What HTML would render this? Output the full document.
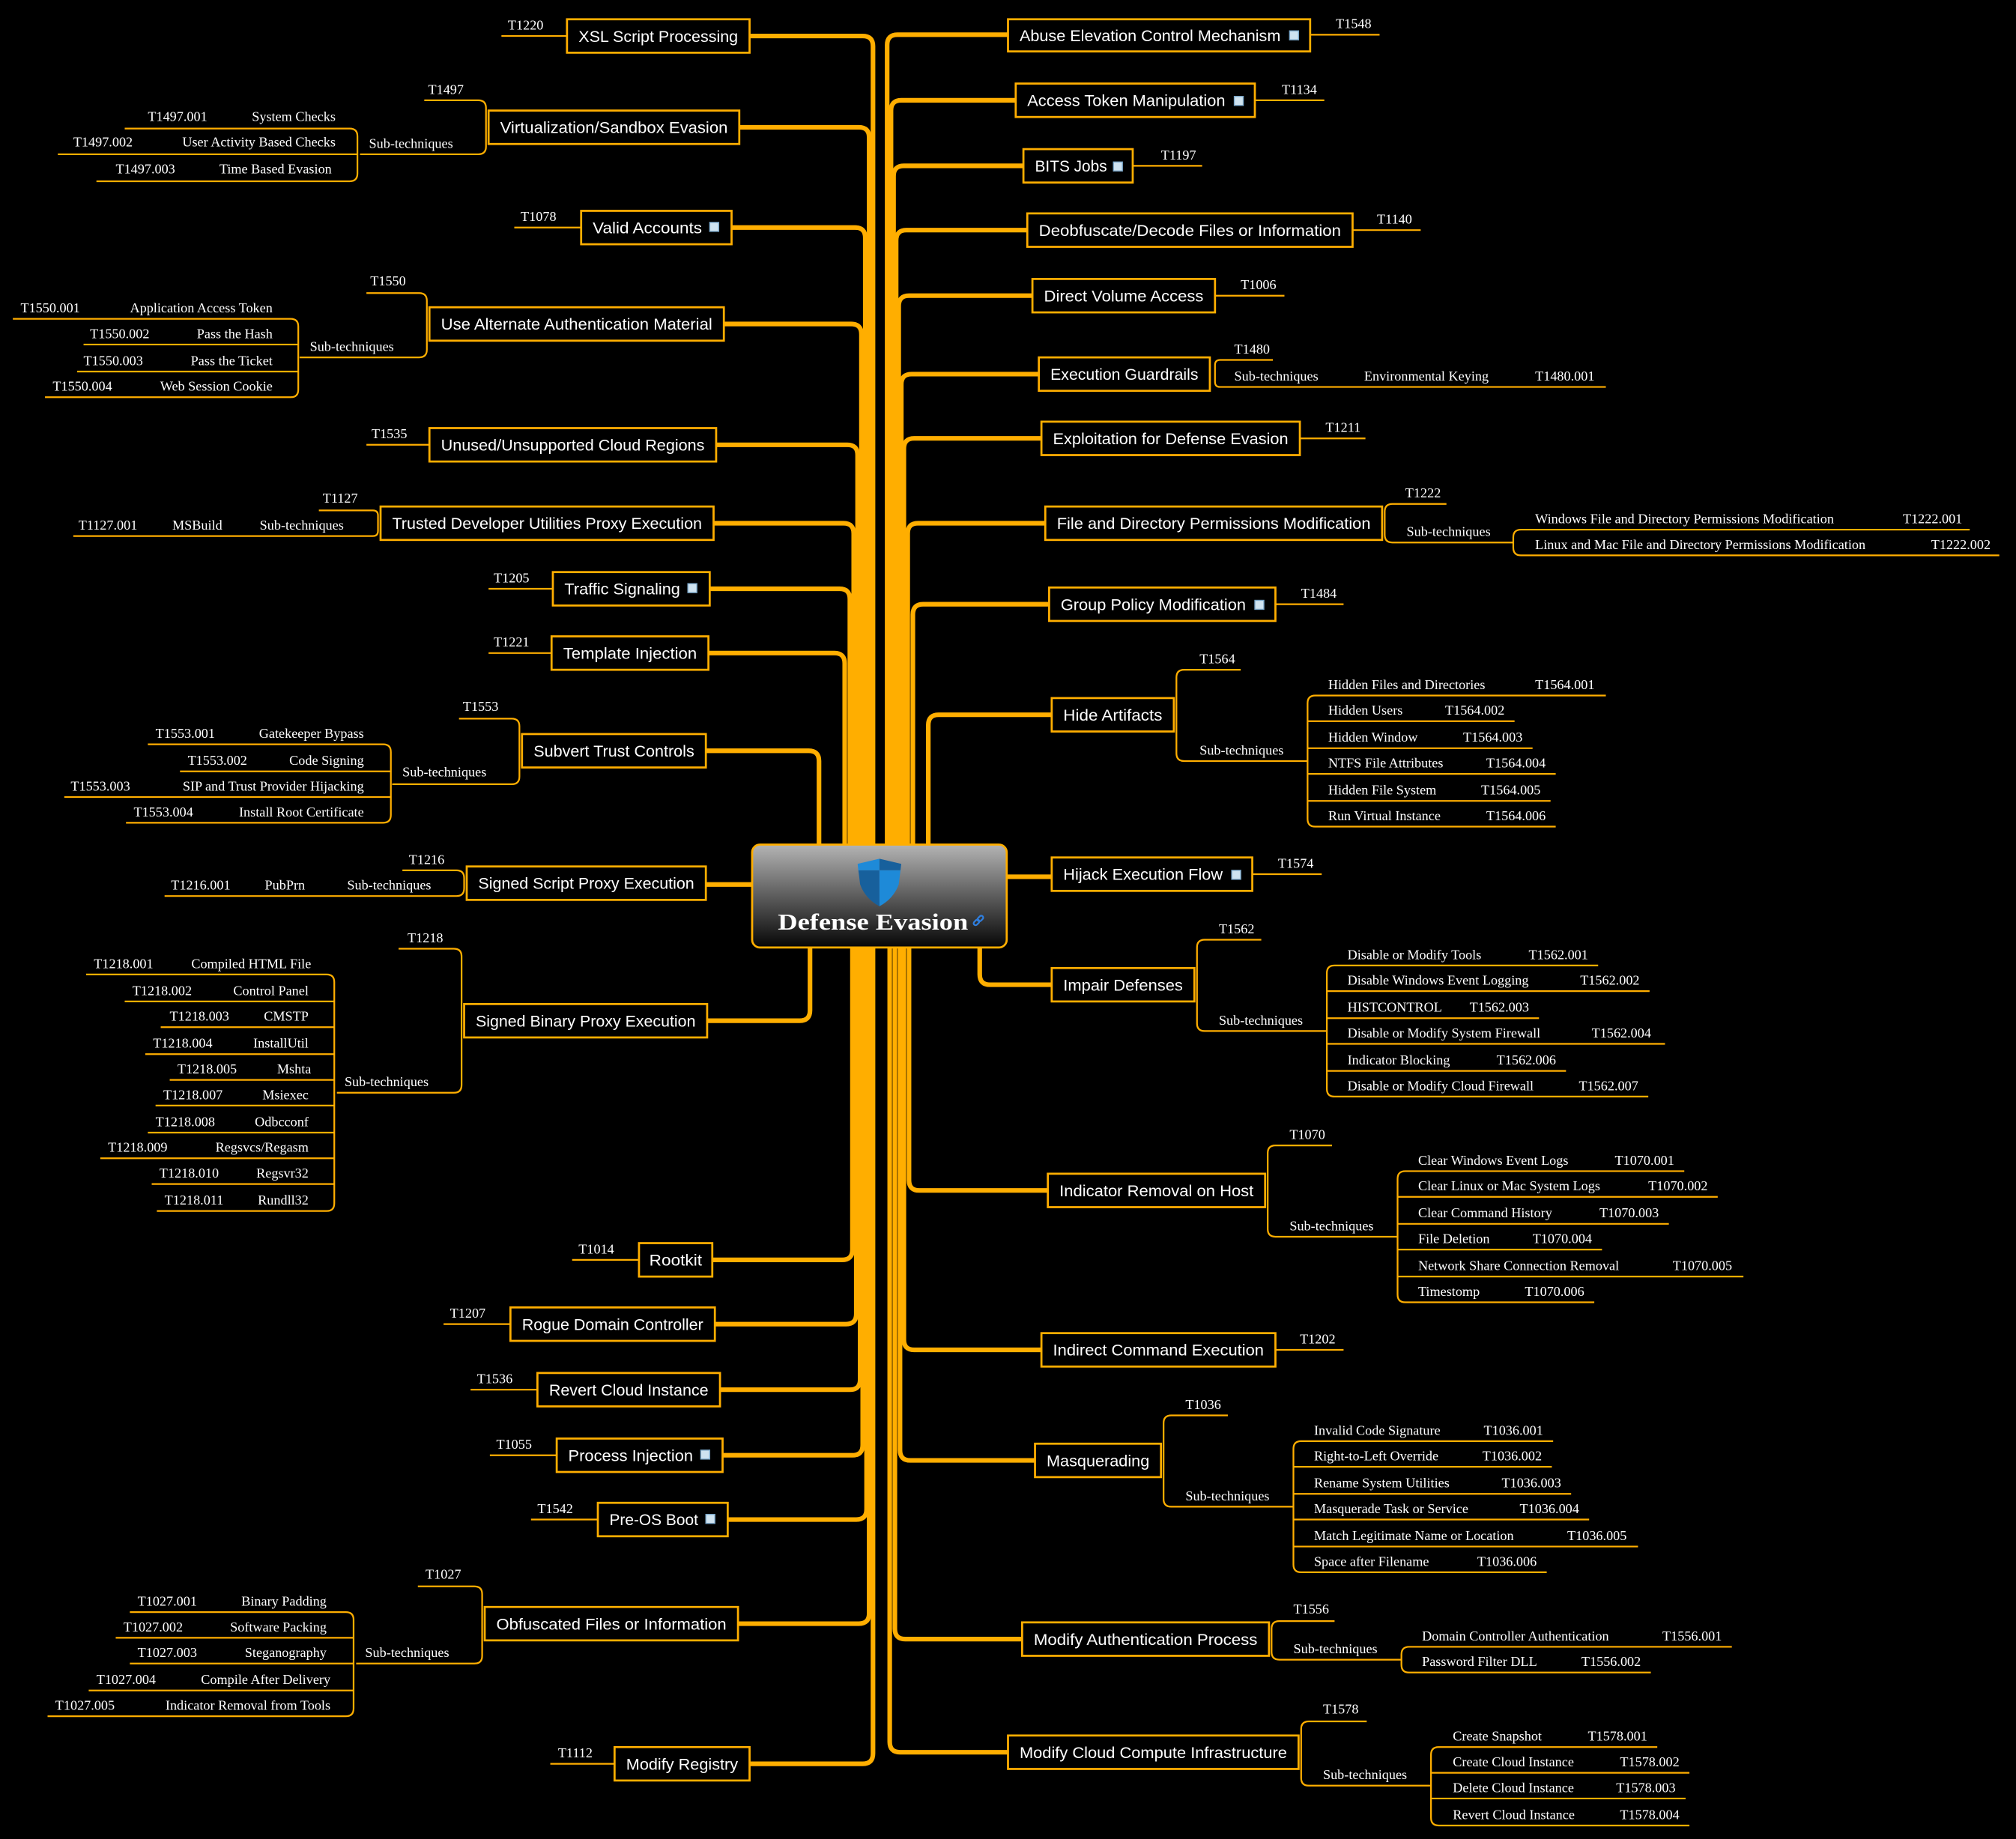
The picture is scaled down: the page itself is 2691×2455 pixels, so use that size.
<!DOCTYPE html>
<html><head><meta charset="utf-8"><style>
html,body{margin:0;padding:0;background:#000;}
svg{display:block}
.c{fill:none;stroke:#ffae00;stroke-width:3.6}
.l{fill:none;stroke:#ffae00;stroke-width:1.3}
.b{fill:#000;stroke:#ffae00;stroke-width:1.6}
.n{fill:#fff;font-family:"Liberation Sans",sans-serif;font-size:12.5px}
.m{text-anchor:middle}
.t{fill:#fff;font-family:"Liberation Serif",serif;font-size:10.6px}
.e{text-anchor:end}
.i{fill:#cfe3f0;stroke:#7aa6c8;stroke-width:.8}
</style></head><body>
<svg width="2691" height="2455" viewBox="0 0 1568 1430.5" preserveAspectRatio="none" xmlns="http://www.w3.org/2000/svg">
<defs>
<linearGradient id="g" x1="0" y1="0" x2="0" y2="1"><stop offset="0" stop-color="#b4b4b4"/><stop offset="1" stop-color="#060606"/></linearGradient>
<clipPath id="sh"><path d="M684,668 L701,672 L699,688 Q695,699 684,705 Q673,699 669,688 L667,672 Z"/></clipPath>
</defs>
<rect width="1568" height="1430.5" fill="#000"/>
<g class="c">
<path d="M583 28 H671 Q679 28 679 36 V660"/>
<path d="M575 99 H668 Q676 99 676 107 V660"/>
<path d="M569 177 H665 Q673 177 673 185 V660"/>
<path d="M563 252 H662 Q670 252 670 260 V660"/>
<path d="M557 346 H659 Q667 346 667 354 V660"/>
<path d="M555 407 H656 Q664 407 664 415 V660"/>
<path d="M552 458 H653 Q661 458 661 466 V660"/>
<path d="M551 508 H649 Q657 508 657 516 V660"/>
<path d="M549 584 H629 Q637 584 637 592 V660"/>
<path d="M549 688 H586"/>
<path d="M550 794 H622 Q630 794 630 786 V735"/>
<path d="M554 980 H655 Q663 980 663 972 V735"/>
<path d="M556 1030 H658 Q666 1030 666 1022 V735"/>
<path d="M560 1081 H661 Q669 1081 669 1073 V735"/>
<path d="M562 1132 H663 Q671 1132 671 1124 V735"/>
<path d="M566 1182 H666 Q674 1182 674 1174 V735"/>
<path d="M574 1263 H668 Q676 1263 676 1255 V735"/>
<path d="M583 1372 H671 Q679 1372 679 1364 V735"/>
<path d="M784 27 H698 Q690 27 690 35 V660"/>
<path d="M790 78 H701 Q693 78 693 86 V660"/>
<path d="M796 129 H703 Q695 129 695 137 V660"/>
<path d="M799 179 H705 Q697 179 697 187 V660"/>
<path d="M803 230 H707 Q699 230 699 238 V660"/>
<path d="M808 291 H709 Q701 291 701 299 V660"/>
<path d="M810 341 H711 Q703 341 703 349 V660"/>
<path d="M813 407 H714 Q706 407 706 415 V660"/>
<path d="M816 470 H718 Q710 470 710 478 V660"/>
<path d="M818 556 H730 Q722 556 722 564 V660"/>
<path d="M783 682 H818"/>
<path d="M818 766 H770 Q762 766 762 758 V735"/>
<path d="M815 926 H715 Q707 926 707 918 V735"/>
<path d="M810 1050 H711 Q703 1050 703 1042 V735"/>
<path d="M805 1136 H708 Q700 1136 700 1128 V735"/>
<path d="M795 1275 H704 Q696 1275 696 1267 V735"/>
<path d="M784 1363 H700 Q692 1363 692 1355 V735"/>
</g>
<g class="l">
<path d="M390 28 H441"/>
<path d="M330 78 H372 Q378 78 378 84 V114 Q378 120 372 120 H280"/>
<path d="M97 100 H272 Q278 100 278 106 V135 Q278 141 272 141 H75"/><path d="M45 120 H278"/>
<path d="M400 177 H452"/>
<path d="M285 228 H326 Q332 228 332 234 V272 Q332 278 326 278 H233"/>
<path d="M10 248 H226 Q232 248 232 254 V303 Q232 309 226 309 H35"/><path d="M65 268 H232"/><path d="M60 289 H232"/>
<path d="M285 346 H334"/>
<path d="M248 397 H290 Q294 397 294 401 V413 Q294 417 290 417 H57"/>
<path d="M380 458 H430"/>
<path d="M380 508 H429"/>
<path d="M357 559 H398 Q404 559 404 565 V604 Q404 610 398 610 H305"/>
<path d="M115 579 H298 Q304 579 304 585 V634 Q304 640 298 640 H98"/><path d="M140 600 H304"/><path d="M50 620 H304"/>
<path d="M313 677 H355 Q361 677 361 683 V691 Q361 697 355 697 H128"/>
<path d="M310 738 H353 Q359 738 359 744 V844 Q359 850 353 850 H262"/>
<path d="M67 758 H254 Q260 758 260 764 V936 Q260 942 254 942 H122"/>
<path d="M97 779 H260"/><path d="M125 799 H260"/><path d="M113 820 H260"/><path d="M132 840 H260"/><path d="M121 860 H260"/><path d="M115 881 H260"/><path d="M78 901 H260"/><path d="M118 921 H260"/>
<path d="M445 980 H497"/>
<path d="M345 1030 H397"/>
<path d="M366 1081 H418"/>
<path d="M381 1132 H433"/>
<path d="M413 1182 H465"/>
<path d="M325 1234 H369 Q375 1234 375 1240 V1288 Q375 1294 369 1294 H277"/>
<path d="M101 1254 H269 Q275 1254 275 1260 V1329 Q275 1335 269 1335 H37"/><path d="M90 1274 H275"/><path d="M101 1294 H275"/><path d="M69 1315 H275"/>
<path d="M428 1372 H478"/>
<path d="M1019 27 H1073"/>
<path d="M976 78 H1030"/>
<path d="M881 129 H935"/>
<path d="M1052 179 H1105"/>
<path d="M945 230 H999"/>
<path d="M990 280 H949 Q945 280 945 284 V297 Q945 301 949 301 H1249"/>
<path d="M1011 341 H1062"/>
<path d="M1125 392 H1083 Q1077 392 1077 398 V416 Q1077 422 1083 422 H1177"/>
<path d="M1532 412 H1183 Q1177 412 1177 418 V426 Q1177 432 1183 432 H1555"/>
<path d="M992 470 H1045"/>
<path d="M965 521 H921 Q915 521 915 527 V586 Q915 592 921 592 H1017"/>
<path d="M1249 541 H1023 Q1017 541 1017 547 V637 Q1017 643 1023 643 H1210"/><path d="M1017 561 H1178"/><path d="M1017 582 H1192"/><path d="M1017 602 H1210"/><path d="M1017 623 H1206"/>
<path d="M974 680 H1028"/>
<path d="M981 731 H937 Q931 731 931 737 V796 Q931 802 937 802 H1032"/>
<path d="M1243 751 H1038 Q1032 751 1032 757 V847 Q1032 853 1038 853 H1282"/><path d="M1032 771 H1283"/><path d="M1032 792 H1197"/><path d="M1032 812 H1295"/><path d="M1032 833 H1218"/>
<path d="M1036 891 H992 Q986 891 986 897 V956 Q986 962 992 962 H1087"/>
<path d="M1310 911 H1093 Q1087 911 1087 917 V1007 Q1087 1013 1093 1013 H1240"/><path d="M1087 931 H1336"/><path d="M1087 952 H1298"/><path d="M1087 972 H1246"/><path d="M1087 993 H1356"/>
<path d="M992 1050 H1045"/>
<path d="M955 1101 H911 Q905 1101 905 1107 V1166 Q905 1172 911 1172 H1006"/>
<path d="M1208 1121 H1012 Q1006 1121 1006 1127 V1217 Q1006 1223 1012 1223 H1203"/><path d="M1006 1141 H1207"/><path d="M1006 1162 H1222"/><path d="M1006 1182 H1236"/><path d="M1006 1203 H1274"/>
<path d="M1038 1261 H995 Q989 1261 989 1267 V1285 Q989 1291 995 1291 H1090"/>
<path d="M1347 1281 H1096 Q1090 1281 1090 1287 V1295 Q1090 1301 1096 1301 H1284"/>
<path d="M1063 1339 H1018 Q1012 1339 1012 1345 V1383 Q1012 1389 1018 1389 H1113"/>
<path d="M1289 1359 H1119 Q1113 1359 1113 1365 V1414 Q1113 1420 1119 1420 H1314"/><path d="M1113 1379 H1314"/><path d="M1113 1399 H1311"/>
</g>
<g class="b">
<rect x="441" y="15" width="142" height="26"/><rect x="380" y="86" width="195" height="26"/><rect x="452" y="164" width="117" height="26"/><rect x="334" y="239" width="229" height="26"/><rect x="334" y="333" width="223" height="26"/><rect x="296" y="394" width="259" height="26"/><rect x="430" y="445" width="122" height="26"/><rect x="429" y="495" width="122" height="26"/><rect x="406" y="571" width="143" height="26"/><rect x="363" y="674" width="186" height="26"/><rect x="361" y="781" width="189" height="26"/><rect x="497" y="967" width="57" height="26"/><rect x="397" y="1017" width="159" height="26"/><rect x="418" y="1068" width="142" height="26"/><rect x="433" y="1119" width="129" height="26"/><rect x="465" y="1169" width="101" height="26"/><rect x="377" y="1250" width="197" height="26"/><rect x="478" y="1359" width="105" height="26"/>
<rect x="784" y="15" width="235" height="25"/><rect x="790" y="65" width="186" height="26"/><rect x="796" y="116" width="85" height="26"/><rect x="799" y="166" width="253" height="26"/><rect x="803" y="217" width="142" height="26"/><rect x="808" y="278" width="133" height="26"/><rect x="810" y="328" width="201" height="26"/><rect x="813" y="394" width="262" height="26"/><rect x="816" y="457" width="176" height="26"/><rect x="818" y="543" width="95" height="26"/><rect x="818" y="667" width="156" height="26"/><rect x="818" y="753" width="111" height="26"/><rect x="815" y="913" width="169" height="26"/><rect x="810" y="1037" width="182" height="26"/><rect x="805" y="1123" width="98" height="26"/><rect x="795" y="1262" width="192" height="26"/><rect x="784" y="1350" width="226" height="26"/>
</g>
<g class="i">
<rect x="552" y="173" width="7" height="7"/><rect x="535" y="454" width="7" height="7"/><rect x="545" y="1128" width="7" height="7"/><rect x="549" y="1178" width="7" height="7"/>
<rect x="1003" y="24" width="7" height="7"/><rect x="960" y="75" width="7" height="7"/><rect x="866" y="126" width="7" height="7"/><rect x="976" y="467" width="7" height="7"/><rect x="958" y="677" width="7" height="7"/>
</g>
<g class="n">
<text class="m" x="512" y="32.5" textLength="124" lengthAdjust="spacingAndGlyphs">XSL Script Processing</text>
<text class="m" x="477.5" y="103.5" textLength="177" lengthAdjust="spacingAndGlyphs">Virtualization/Sandbox Evasion</text>
<text x="461" y="181.5" textLength="85" lengthAdjust="spacingAndGlyphs">Valid Accounts</text>
<text class="m" x="448.5" y="256.5" textLength="211" lengthAdjust="spacingAndGlyphs">Use Alternate Authentication Material</text>
<text class="m" x="445.5" y="350.5" textLength="205" lengthAdjust="spacingAndGlyphs">Unused/Unsupported Cloud Regions</text>
<text class="m" x="425.5" y="411.5" textLength="241" lengthAdjust="spacingAndGlyphs">Trusted Developer Utilities Proxy Execution</text>
<text x="439" y="462.5" textLength="90" lengthAdjust="spacingAndGlyphs">Traffic Signaling</text>
<text class="m" x="490" y="512.5" textLength="104" lengthAdjust="spacingAndGlyphs">Template Injection</text>
<text class="m" x="477.5" y="588.5" textLength="125" lengthAdjust="spacingAndGlyphs">Subvert Trust Controls</text>
<text class="m" x="456" y="691.5" textLength="168" lengthAdjust="spacingAndGlyphs">Signed Script Proxy Execution</text>
<text class="m" x="455.5" y="798.5" textLength="171" lengthAdjust="spacingAndGlyphs">Signed Binary Proxy Execution</text>
<text class="m" x="525.5" y="984.5" textLength="41" lengthAdjust="spacingAndGlyphs">Rootkit</text>
<text class="m" x="476.5" y="1034.5" textLength="141" lengthAdjust="spacingAndGlyphs">Rogue Domain Controller</text>
<text class="m" x="489" y="1085.5" textLength="124" lengthAdjust="spacingAndGlyphs">Revert Cloud Instance</text>
<text x="442" y="1136.5" textLength="97" lengthAdjust="spacingAndGlyphs">Process Injection</text>
<text x="474" y="1186.5" textLength="69" lengthAdjust="spacingAndGlyphs">Pre-OS Boot</text>
<text class="m" x="475.5" y="1267.5" textLength="179" lengthAdjust="spacingAndGlyphs">Obfuscated Files or Information</text>
<text class="m" x="530.5" y="1376.5" textLength="87" lengthAdjust="spacingAndGlyphs">Modify Registry</text>
<text x="793" y="32" textLength="203" lengthAdjust="spacingAndGlyphs">Abuse Elevation Control Mechanism</text>
<text x="799" y="82.5" textLength="154" lengthAdjust="spacingAndGlyphs">Access Token Manipulation</text>
<text x="805" y="133.5" textLength="56" lengthAdjust="spacingAndGlyphs">BITS Jobs</text>
<text class="m" x="925.5" y="183.5" textLength="235" lengthAdjust="spacingAndGlyphs">Deobfuscate/Decode Files or Information</text>
<text class="m" x="874" y="234.5" textLength="124" lengthAdjust="spacingAndGlyphs">Direct Volume Access</text>
<text class="m" x="874.5" y="295.5" textLength="115" lengthAdjust="spacingAndGlyphs">Execution Guardrails</text>
<text class="m" x="910.5" y="345.5" textLength="183" lengthAdjust="spacingAndGlyphs">Exploitation for Defense Evasion</text>
<text class="m" x="944" y="411.5" textLength="244" lengthAdjust="spacingAndGlyphs">File and Directory Permissions Modification</text>
<text x="825" y="474.5" textLength="144" lengthAdjust="spacingAndGlyphs">Group Policy Modification</text>
<text class="m" x="865.5" y="560.5" textLength="77" lengthAdjust="spacingAndGlyphs">Hide Artifacts</text>
<text x="827" y="684.5" textLength="124" lengthAdjust="spacingAndGlyphs">Hijack Execution Flow</text>
<text class="m" x="873.5" y="770.5" textLength="93" lengthAdjust="spacingAndGlyphs">Impair Defenses</text>
<text class="m" x="899.5" y="930.5" textLength="151" lengthAdjust="spacingAndGlyphs">Indicator Removal on Host</text>
<text class="m" x="901" y="1054.5" textLength="164" lengthAdjust="spacingAndGlyphs">Indirect Command Execution</text>
<text class="m" x="854" y="1140.5" textLength="80" lengthAdjust="spacingAndGlyphs">Masquerading</text>
<text class="m" x="891" y="1279.5" textLength="174" lengthAdjust="spacingAndGlyphs">Modify Authentication Process</text>
<text class="m" x="897" y="1367.5" textLength="208" lengthAdjust="spacingAndGlyphs">Modify Cloud Compute Infrastructure</text>
</g>
<g class="t">
<text x="395" y="23">T1220</text>
<text x="333" y="73">T1497</text><text x="287" y="115">Sub-techniques</text>
<text x="115" y="94">T1497.001</text><text class="e" x="261" y="94">System Checks</text>
<text x="57" y="114">T1497.002</text><text class="e" x="261" y="114">User Activity Based Checks</text>
<text x="90" y="135">T1497.003</text><text class="e" x="258" y="135">Time Based Evasion</text>
<text x="405" y="172">T1078</text>
<text x="288" y="222">T1550</text><text x="241" y="273">Sub-techniques</text>
<text x="16" y="243">T1550.001</text><text class="e" x="212" y="243">Application Access Token</text>
<text x="70" y="263">T1550.002</text><text class="e" x="212" y="263">Pass the Hash</text>
<text x="65" y="284">T1550.003</text><text class="e" x="212" y="284">Pass the Ticket</text>
<text x="41" y="304">T1550.004</text><text class="e" x="212" y="304">Web Session Cookie</text>
<text x="289" y="341">T1535</text>
<text x="251" y="391">T1127</text><text x="202" y="412">Sub-techniques</text><text x="61" y="412">T1127.001</text><text x="134" y="412">MSBuild</text>
<text x="384" y="453">T1205</text>
<text x="384" y="503">T1221</text>
<text x="360" y="553">T1553</text><text x="313" y="604">Sub-techniques</text>
<text x="121" y="574">T1553.001</text><text class="e" x="283" y="574">Gatekeeper Bypass</text>
<text x="146" y="595">T1553.002</text><text class="e" x="283" y="595">Code Signing</text>
<text x="55" y="615">T1553.003</text><text class="e" x="283" y="615">SIP and Trust Provider Hijacking</text>
<text x="104" y="635">T1553.004</text><text class="e" x="283" y="635">Install Root Certificate</text>
<text x="318" y="672">T1216</text><text x="270" y="692">Sub-techniques</text><text x="133" y="692">T1216.001</text><text x="206" y="692">PubPrn</text>
<text x="317" y="733">T1218</text><text x="268" y="845">Sub-techniques</text>
<text x="73" y="753">T1218.001</text><text class="e" x="242" y="753">Compiled HTML File</text>
<text x="103" y="774">T1218.002</text><text class="e" x="240" y="774">Control Panel</text>
<text x="132" y="794">T1218.003</text><text class="e" x="240" y="794">CMSTP</text>
<text x="119" y="815">T1218.004</text><text class="e" x="240" y="815">InstallUtil</text>
<text x="138" y="835">T1218.005</text><text class="e" x="242" y="835">Mshta</text>
<text x="127" y="855">T1218.007</text><text class="e" x="240" y="855">Msiexec</text>
<text x="121" y="876">T1218.008</text><text class="e" x="240" y="876">Odbcconf</text>
<text x="84" y="896">T1218.009</text><text class="e" x="240" y="896">Regsvcs/Regasm</text>
<text x="124" y="916">T1218.010</text><text class="e" x="240" y="916">Regsvr32</text>
<text x="128" y="937">T1218.011</text><text class="e" x="240" y="937">Rundll32</text>
<text x="450" y="975">T1014</text>
<text x="350" y="1025">T1207</text>
<text x="371" y="1076">T1536</text>
<text x="386" y="1127">T1055</text>
<text x="418" y="1177">T1542</text>
<text x="331" y="1228">T1027</text><text x="284" y="1289">Sub-techniques</text>
<text x="107" y="1249">T1027.001</text><text class="e" x="254" y="1249">Binary Padding</text>
<text x="96" y="1269">T1027.002</text><text class="e" x="254" y="1269">Software Packing</text>
<text x="107" y="1289">T1027.003</text><text class="e" x="254" y="1289">Steganography</text>
<text x="75" y="1310">T1027.004</text><text class="e" x="257" y="1310">Compile After Delivery</text>
<text x="43" y="1330">T1027.005</text><text class="e" x="257" y="1330">Indicator Removal from Tools</text>
<text x="434" y="1367">T1112</text>
<text x="1039" y="22">T1548</text>
<text x="997" y="73">T1134</text>
<text x="903" y="124">T1197</text>
<text x="1071" y="174">T1140</text>
<text x="965" y="225">T1006</text>
<text x="960" y="275">T1480</text><text x="960" y="296">Sub-techniques</text><text x="1061" y="296">Environmental Keying</text><text x="1194" y="296">T1480.001</text>
<text x="1031" y="336">T1211</text>
<text x="1093" y="387">T1222</text><text x="1094" y="417">Sub-techniques</text>
<text x="1194" y="407">Windows File and Directory Permissions Modification</text><text x="1480" y="407">T1222.001</text>
<text x="1194" y="427">Linux and Mac File and Directory Permissions Modification</text><text x="1502" y="427">T1222.002</text>
<text x="1012" y="465">T1484</text>
<text x="933" y="516">T1564</text><text x="933" y="587">Sub-techniques</text>
<text x="1033" y="536">Hidden Files and Directories</text><text x="1194" y="536">T1564.001</text>
<text x="1033" y="556">Hidden Users</text><text x="1124" y="556">T1564.002</text>
<text x="1033" y="577">Hidden Window</text><text x="1138" y="577">T1564.003</text>
<text x="1033" y="597">NTFS File Attributes</text><text x="1156" y="597">T1564.004</text>
<text x="1033" y="618">Hidden File System</text><text x="1152" y="618">T1564.005</text>
<text x="1033" y="638">Run Virtual Instance</text><text x="1156" y="638">T1564.006</text>
<text x="994" y="675">T1574</text>
<text x="948" y="726">T1562</text><text x="948" y="797">Sub-techniques</text>
<text x="1048" y="746">Disable or Modify Tools</text><text x="1189" y="746">T1562.001</text>
<text x="1048" y="766">Disable Windows Event Logging</text><text x="1229" y="766">T1562.002</text>
<text x="1048" y="787">HISTCONTROL</text><text x="1143" y="787">T1562.003</text>
<text x="1048" y="807">Disable or Modify System Firewall</text><text x="1238" y="807">T1562.004</text>
<text x="1048" y="828">Indicator Blocking</text><text x="1164" y="828">T1562.006</text>
<text x="1048" y="848">Disable or Modify Cloud Firewall</text><text x="1228" y="848">T1562.007</text>
<text x="1003" y="886">T1070</text><text x="1003" y="957">Sub-techniques</text>
<text x="1103" y="906">Clear Windows Event Logs</text><text x="1256" y="906">T1070.001</text>
<text x="1103" y="926">Clear Linux or Mac System Logs</text><text x="1282" y="926">T1070.002</text>
<text x="1103" y="947">Clear Command History</text><text x="1244" y="947">T1070.003</text>
<text x="1103" y="967">File Deletion</text><text x="1192" y="967">T1070.004</text>
<text x="1103" y="988">Network Share Connection Removal</text><text x="1301" y="988">T1070.005</text>
<text x="1103" y="1008">Timestomp</text><text x="1186" y="1008">T1070.006</text>
<text x="1011" y="1045">T1202</text>
<text x="922" y="1096">T1036</text><text x="922" y="1167">Sub-techniques</text>
<text x="1022" y="1116">Invalid Code Signature</text><text x="1154" y="1116">T1036.001</text>
<text x="1022" y="1136">Right-to-Left Override</text><text x="1153" y="1136">T1036.002</text>
<text x="1022" y="1157">Rename System Utilities</text><text x="1168" y="1157">T1036.003</text>
<text x="1022" y="1177">Masquerade Task or Service</text><text x="1182" y="1177">T1036.004</text>
<text x="1022" y="1198">Match Legitimate Name or Location</text><text x="1219" y="1198">T1036.005</text>
<text x="1022" y="1218">Space after Filename</text><text x="1149" y="1218">T1036.006</text>
<text x="1006" y="1255">T1556</text><text x="1006" y="1286">Sub-techniques</text>
<text x="1106" y="1276">Domain Controller Authentication</text><text x="1293" y="1276">T1556.001</text>
<text x="1106" y="1296">Password Filter DLL</text><text x="1230" y="1296">T1556.002</text>
<text x="1029" y="1333">T1578</text><text x="1029" y="1384">Sub-techniques</text>
<text x="1130" y="1354">Create Snapshot</text><text x="1235" y="1354">T1578.001</text>
<text x="1130" y="1374">Create Cloud Instance</text><text x="1260" y="1374">T1578.002</text>
<text x="1130" y="1394">Delete Cloud Instance</text><text x="1257" y="1394">T1578.003</text>
<text x="1130" y="1415">Revert Cloud Instance</text><text x="1260" y="1415">T1578.004</text>
</g>
<rect x="585" y="657" width="198" height="80" rx="6" fill="url(#g)" stroke="#ffae00" stroke-width="1.6"/>
<g clip-path="url(#sh)">
<rect x="660" y="660" width="24" height="17" fill="#1e8ad8"/><rect x="684" y="660" width="24" height="17" fill="#17609c"/>
<rect x="660" y="677" width="24" height="30" fill="#17609c"/><rect x="684" y="677" width="24" height="30" fill="#1e8ad8"/>
</g>
<text x="679" y="723" text-anchor="middle" textLength="148" lengthAdjust="spacingAndGlyphs" fill="#fff" font-family="Liberation Serif, serif" font-weight="bold" font-size="18">Defense Evasion</text>
<g fill="none" stroke="#2f7fe0" stroke-width="1.3"><rect x="757" y="716" width="5" height="3" rx="1.5" transform="rotate(-45 759.5 717.5)"/><rect x="760" y="713" width="5" height="3" rx="1.5" transform="rotate(-45 762.5 714.5)"/></g>
</svg>
</body></html>
